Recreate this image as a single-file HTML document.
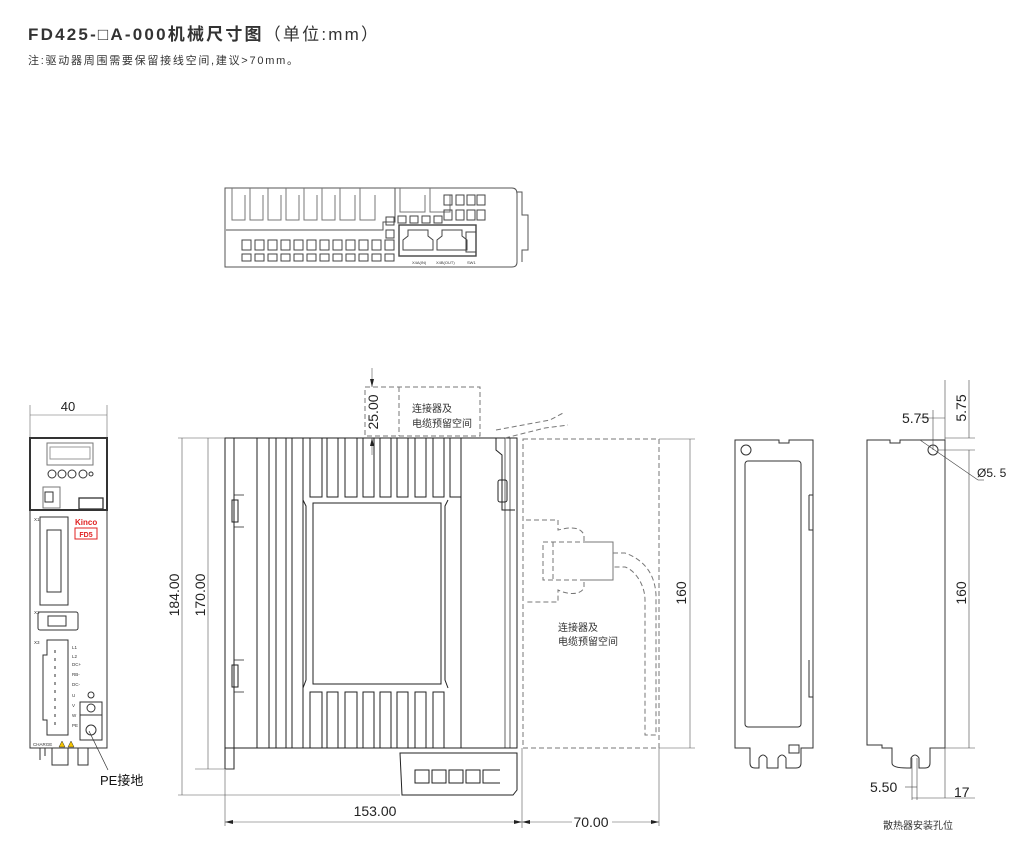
<!DOCTYPE html>
<html><head><meta charset="utf-8"><style>
html,body{margin:0;padding:0;background:#fff;}
body{width:1019px;height:859px;overflow:hidden;position:relative;font-family:"Liberation Sans","Noto Sans CJK SC",sans-serif;}
svg text{font-family:"Liberation Sans","Noto Sans CJK SC",sans-serif;}
</style></head><body>
<svg width="1019" height="859" viewBox="0 0 1019 859" xmlns="http://www.w3.org/2000/svg">
<text x="28" y="40" font-size="17" font-weight="bold" fill="#333" textLength="350" lengthAdjust="spacing">FD425-<tspan font-weight="normal">□</tspan>A-000机械尺寸图<tspan font-weight="normal">（单位:mm）</tspan></text>
<text x="28" y="64" font-size="11" fill="#333" textLength="270" lengthAdjust="spacing">注:驱动器周围需要保留接线空间,建议&gt;70mm。</text>

<!-- TOP VIEW -->
<g fill="none" stroke="#555" stroke-width="1">
<path d="M225 188 H512 Q517 188 517 194 V262 Q517 267 512 267 H225 Z"/>
<path d="M517 192 H522 V215 H528 V250 H522 V262"/>
<path d="M226 230 H383 V222 H395 V188"/>
<g stroke="#777">
<path d="M232 188 V220 H245 V195"/><path d="M250 188 V220 H263 V195"/><path d="M268 188 V220 H281 V195"/><path d="M286 188 V220 H299 V195"/><path d="M304 188 V220 H317 V195"/><path d="M322 188 V220 H335 V195"/><path d="M340 188 V220 H355 V195"/><path d="M360 188 V220 H375 V195"/><path d="M400 188 V212 H425 V195"/><path d="M430 188 V212 H450 V195"/>
</g>
<g stroke="#444">
<rect x="444" y="195" width="8" height="10"/><rect x="456" y="195" width="8" height="10"/><rect x="467" y="195" width="8" height="10"/><rect x="477" y="195" width="8" height="10"/>
<rect x="444" y="210" width="8" height="10"/><rect x="456" y="210" width="8" height="10"/><rect x="467" y="210" width="8" height="10"/><rect x="477" y="210" width="8" height="10"/>
<rect x="398" y="216" width="8" height="7"/><rect x="410" y="216" width="8" height="7"/><rect x="422" y="216" width="8" height="7"/><rect x="434" y="216" width="8" height="7"/>
<rect x="386" y="217" width="8" height="8"/><rect x="386" y="230" width="8" height="8"/>
<rect x="399" y="225" width="77" height="31" stroke-width="1.4"/>
<path d="M403 240 V250 H433 V240 L428 236 V230 H408 V236 Z"/>
<path d="M437 240 V250 H467 V240 L462 236 V230 H442 V236 Z"/>
<rect x="466" y="232" width="10" height="20"/>
</g>
<g stroke="#444">
<rect x="242" y="240" width="9" height="10"/><rect x="255" y="240" width="9" height="10"/><rect x="268" y="240" width="9" height="10"/><rect x="281" y="240" width="9" height="10"/><rect x="294" y="240" width="9" height="10"/><rect x="307" y="240" width="9" height="10"/><rect x="320" y="240" width="9" height="10"/><rect x="333" y="240" width="9" height="10"/><rect x="346" y="240" width="9" height="10"/><rect x="359" y="240" width="9" height="10"/><rect x="372" y="240" width="9" height="10"/>
<rect x="242" y="254" width="9" height="7"/><rect x="255" y="254" width="9" height="7"/><rect x="268" y="254" width="9" height="7"/><rect x="281" y="254" width="9" height="7"/><rect x="294" y="254" width="9" height="7"/><rect x="307" y="254" width="9" height="7"/><rect x="320" y="254" width="9" height="7"/><rect x="333" y="254" width="9" height="7"/><rect x="346" y="254" width="9" height="7"/><rect x="359" y="254" width="9" height="7"/><rect x="372" y="254" width="9" height="7"/><rect x="385" y="254" width="9" height="7"/>
<rect x="385" y="240" width="9" height="10"/>
</g>
</g>
<g font-size="4" fill="#333"><text x="412" y="264">X4A(IN)</text><text x="436" y="264">X4B(OUT)</text><text x="467" y="264">SW1</text></g>

<!-- FRONT VIEW -->
<g fill="none" stroke="#333" stroke-width="1">
<line x1="30" y1="405" x2="30" y2="438" stroke="#666" stroke-width="0.6"/>
<line x1="107" y1="405" x2="107" y2="438" stroke="#666" stroke-width="0.6"/>
<line x1="30" y1="415" x2="107" y2="415" stroke="#666" stroke-width="0.6"/>
<rect x="30" y="438" width="77" height="310"/>
<rect x="30" y="438" width="77" height="72" stroke-width="2"/>
<rect x="47" y="443" width="46" height="22" stroke="#777"/>
<rect x="50" y="447" width="40" height="12" stroke="#999"/>
<circle cx="52" cy="474" r="4"/><circle cx="62" cy="474" r="4"/><circle cx="72" cy="474" r="4"/><circle cx="83" cy="474" r="4"/><circle cx="91" cy="474" r="2"/>
<rect x="43" y="487" width="17" height="21" stroke="#777"/><rect x="45" y="492" width="8" height="10"/>
<rect x="79" y="498" width="24" height="11" stroke-width="1.3"/>
<rect x="40" y="517" width="28" height="88"/><rect x="47" y="530" width="14" height="62"/>
<rect x="38" y="612" width="40" height="18" rx="2"/><rect x="48" y="616" width="18" height="10"/>
<path d="M47 640 H68 V735 H47 V720 H43 V655 H47 Z"/>
<path d="M55 650 V725" stroke-dasharray="3 5"/>
<rect x="80" y="702" width="22" height="13"/><rect x="80" y="715" width="22" height="25"/>
<circle cx="91" cy="708" r="4"/><circle cx="91" cy="730" r="5"/>
<circle cx="91" cy="695" r="3"/>
<path d="M40 748 V760 M45 748 V756 M52 748 V765 H68 V748 M78 748 V765 H88 V748"/>
<line x1="89" y1="731" x2="108" y2="770" stroke-width="0.7"/>
</g>
<text x="68" y="411" font-size="13" text-anchor="middle" fill="#222">40</text>
<text x="75" y="525" font-size="8" font-weight="bold" fill="#e02020">Kinco</text>
<rect x="75" y="528" width="22" height="11" fill="none" stroke="#e02020" stroke-width="1"/>
<text x="86" y="537" font-size="7" font-weight="bold" fill="#e02020" text-anchor="middle">FD5</text>
<g font-size="4.5" fill="#333"><text x="34" y="521">X1</text><text x="34" y="614">X2</text><text x="34" y="644">X3</text>
<text x="72" y="649">L1</text><text x="72" y="658">L2</text><text x="72" y="666">DC+</text><text x="72" y="676">RB-</text><text x="72" y="686">DC-</text><text x="72" y="697">U</text><text x="72" y="707">V</text><text x="72" y="717">W</text><text x="72" y="727">PE</text>
<text x="33" y="746">CHARGE</text></g>
<path d="M59 747 L62 741 L65 747 Z M68 747 L71 741 L74 747 Z" fill="#f5c400" stroke="#333" stroke-width="0.5"/>
<text x="100" y="785" font-size="13" fill="#111">PE接地</text>

<!-- SIDE VIEW -->
<g fill="none" stroke="#222" stroke-width="1">
<rect x="225" y="438" width="292" height="310"/>
<rect x="225" y="438" width="9" height="331"/>
<line x1="257" y1="438" x2="257" y2="748"/><line x1="269" y1="438" x2="269" y2="748"/><line x1="276" y1="438" x2="276" y2="748"/><line x1="286" y1="438" x2="286" y2="748"/><line x1="292" y1="438" x2="292" y2="748"/><line x1="303" y1="438" x2="303" y2="748"/>
<line x1="461" y1="438" x2="461" y2="748"/>
<g>
<rect x="310" y="438" width="12" height="59"/><rect x="327" y="438" width="11" height="59"/><rect x="345" y="438" width="12" height="59"/><rect x="363" y="438" width="11" height="59"/><rect x="380" y="438" width="11" height="59"/><rect x="397" y="438" width="11" height="59"/><rect x="415" y="438" width="11" height="59"/><rect x="433" y="438" width="11" height="59"/><rect x="450" y="438" width="11" height="59"/>
<rect x="310" y="692" width="12" height="56"/><rect x="327" y="692" width="11" height="56"/><rect x="345" y="692" width="12" height="56"/><rect x="363" y="692" width="11" height="56"/><rect x="380" y="692" width="11" height="56"/><rect x="397" y="692" width="11" height="56"/><rect x="415" y="692" width="11" height="56"/><rect x="433" y="692" width="11" height="56"/>
</g>
<path d="M303 500 L306 506 V680 L303 688 M448 500 L445 506 V680 L448 688"/>
<rect x="313" y="503" width="128" height="181"/>
<rect x="232" y="500" width="6" height="22"/><rect x="232" y="665" width="6" height="22"/>
<path d="M234 495 H244 M234 527 H244 M234 660 H244 M234 692 H244" stroke-width="0.8"/>
<path d="M496 438 V450 L502 455 V510 H515"/>
<rect x="498" y="480" width="9" height="22" rx="2"/>
<line x1="505" y1="438" x2="505" y2="748" stroke-width="0.7"/>
<line x1="510" y1="438" x2="510" y2="748" stroke-width="0.7"/>
<path d="M384 748 H425 M400 753 L402 795 H513 L517 790 V753 Z"/>
<rect x="415" y="770" width="14" height="13"/><rect x="432" y="770" width="14" height="13"/><rect x="449" y="770" width="14" height="13"/><rect x="466" y="770" width="14" height="13"/><path d="M500 770 H483 V783 H500"/>
</g>
<!-- dim lines side -->
<g stroke="#555" stroke-width="0.6" fill="none">
<line x1="178" y1="438" x2="225" y2="438"/><line x1="178" y1="795" x2="400" y2="795"/><line x1="182" y1="438" x2="182" y2="795"/>
<line x1="195" y1="769" x2="234" y2="769"/><line x1="208" y1="438" x2="208" y2="769"/>
<line x1="225" y1="770" x2="225" y2="826"/><line x1="522" y1="748" x2="522" y2="828"/><line x1="659" y1="748" x2="659" y2="826"/>
<line x1="225" y1="822" x2="522" y2="822"/><line x1="522" y1="822" x2="572" y2="822"/><line x1="612" y1="822" x2="659" y2="822"/>
<line x1="659" y1="439" x2="695" y2="439"/><line x1="659" y1="748" x2="695" y2="748"/><line x1="690" y1="439" x2="690" y2="748"/>
<line x1="372" y1="368" x2="372" y2="387"/><line x1="372" y1="438" x2="372" y2="455"/>
</g>
<g fill="#222"><path d="M225 822 l8 -2 v4 z M522 822 l-8 -2 v4 z M522 822 l8 -2 v4 z M659 822 l-8 -2 v4 z M372 387 l-2 -8 h4 z M372 438 l-2 8 h4 z"/></g>
<g fill="none" stroke="#777" stroke-width="1" stroke-dasharray="5 3">
<rect x="365" y="387" width="115" height="49"/><line x1="399" y1="387" x2="399" y2="436"/>
<rect x="523" y="439" width="136" height="309"/>
<path d="M526 520 H558 V530 C566 528 580 525 584 535 V542 H613 V580 H584 V588 C580 596 566 594 558 590 V602 H526"/>
<rect x="543" y="542" width="70" height="38"/><line x1="553" y1="542" x2="553" y2="580"/>
<path d="M613 553 H625 C645 560 655 575 656 595 V735 H645 V600 C645 585 635 570 625 567 H613"/>
<path d="M496 430 L550 420 L565 412 M505 438 L545 428 L568 425"/>
</g>
<g font-size="14" fill="#222">
<text x="375" y="816" text-anchor="middle">153.00</text>
<text x="591" y="827" text-anchor="middle">70.00</text>
<text transform="translate(179 595) rotate(-90)" text-anchor="middle">184.00</text>
<text transform="translate(205 595) rotate(-90)" text-anchor="middle">170.00</text>
<text transform="translate(378 412) rotate(-90)" text-anchor="middle">25.00</text>
<text transform="translate(686 593) rotate(-90)" text-anchor="middle">160</text>
</g>
<g font-size="10" fill="#333">
<text x="412" y="412">连接器及</text><text x="412" y="427">电缆预留空间</text>
<text x="558" y="631">连接器及</text><text x="558" y="645">电缆预留空间</text>
</g>

<!-- RIGHT VIEW A -->
<g fill="none" stroke="#333" stroke-width="1">
<path d="M735 440 H779 V443 H789 V440 H813 V748 H801 V763 Q801 768 796 768 H786 V758 Q782 752 778 758 V768 H767 V758 Q763 752 759 758 V768 H755 Q750 768 750 763 V748 H735 Z"/>
<rect x="745" y="461" width="56" height="266" rx="3"/>
<circle cx="746" cy="450" r="5"/>
<path d="M809 495 H813 M809 495 V530 H813 M809 660 V697 H813"/>
<rect x="789" y="745" width="10" height="8"/>
</g>
<!-- RIGHT VIEW B -->
<g fill="none" stroke="#333" stroke-width="1">
<path d="M867 440 H890 V443 H900 V440 H945 V748 H930 V763 Q930 768 925 768 H919 V758 Q915 752 911 758 V768 H907 Q892 768 892 763 V748 H882 V745 H867 Z"/>
<circle cx="933" cy="450" r="5"/>
</g>
<g stroke="#444" stroke-width="0.6" fill="none">
<line x1="933" y1="410" x2="933" y2="450"/><line x1="945" y1="380" x2="945" y2="798"/>
<line x1="920" y1="418" x2="945" y2="418"/>
<line x1="945" y1="438" x2="975" y2="438"/><line x1="938" y1="450" x2="975" y2="450"/>
<line x1="969" y1="380" x2="969" y2="438"/><line x1="969" y1="450" x2="969" y2="748"/>
<line x1="930" y1="748" x2="975" y2="748"/>
<line x1="920" y1="440" x2="978" y2="480"/><line x1="978" y1="480" x2="984" y2="480"/>
<line x1="912" y1="758" x2="912" y2="800"/><line x1="917" y1="758" x2="917" y2="800"/>
<line x1="905" y1="787" x2="917" y2="787"/>
<line x1="912" y1="798" x2="975" y2="798"/>
</g>
<g font-size="14" fill="#222">
<text x="902" y="423">5.75</text>
<text transform="translate(966 408) rotate(-90)" text-anchor="middle">5.75</text>
<text transform="translate(966 593) rotate(-90)" text-anchor="middle">160</text>
<text x="870" y="792">5.50</text>
<text x="954" y="797">17</text>
</g>
<text x="977" y="477" font-size="12" fill="#222">Ø5. 5</text>
<text x="883" y="829" font-size="10" fill="#333">散热器安装孔位</text>
</svg>
</body></html>
